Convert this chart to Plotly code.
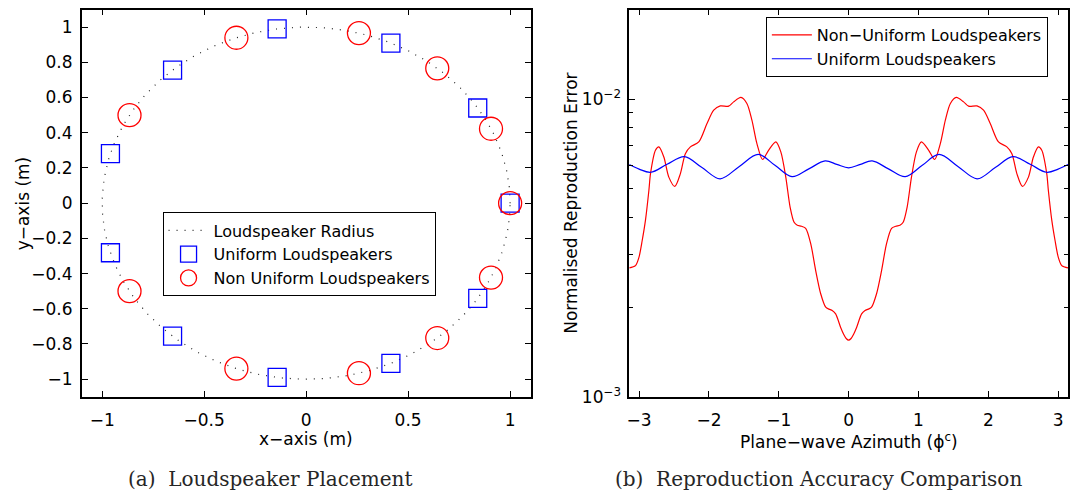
import numpy as np
import plotly.graph_objects as go

W, H = 1072, 496
HEFF = 485  # vertical extent the page is photographed at (observed), used for paper fractions

# ---------------- Panel (a): loudspeaker placement ----------------
radius = 1.0
uniform_deg = [0, 32.73, 65.45, 98.18, 130.91, 163.64, 196.36, 229.09, 261.82, 294.55, 327.27]
nonuniform_deg = [0, 25, 50, 75, 110, 150, 210, 250, 285, 310, 335]

# ---------------- Panel (b): reproduction error ----------------
azimuth_nonuniform = [
    -3.1416, -3.052, -3.003, -2.956, -2.909, -2.860, -2.837, -2.766, -2.717, -2.646,
    -2.575, -2.489, -2.409, -2.338, -2.266, -2.146, -2.028, -1.932, -1.838, -1.718,
    -1.646, -1.542, -1.457, -1.385, -1.314, -1.232, -1.147, -1.042, -0.971, -0.900,
    -0.838, -0.781, -0.735, -0.675, -0.615, -0.543, -0.471, -0.400, -0.328, -0.281,
    -0.235, -0.186, -0.114, -0.070, -0.035, 0.0,
    0.035, 0.070, 0.114, 0.186, 0.235, 0.281, 0.328, 0.400, 0.471, 0.543, 0.615,
    0.675, 0.735, 0.781, 0.838, 0.900, 0.971, 1.042, 1.147, 1.232, 1.314,
    1.385, 1.457, 1.542, 1.646, 1.718, 1.838, 1.932, 2.028, 2.146, 2.266,
    2.338, 2.409, 2.489, 2.575, 2.646, 2.717, 2.766, 2.837, 2.860, 2.909,
    2.956, 3.003, 3.052, 3.1416,
]
error_nonuniform = [
    0.00271, 0.00276, 0.00294, 0.00335, 0.00392, 0.00494, 0.00562, 0.00673, 0.00691, 0.00639,
    0.00547, 0.00509, 0.00562, 0.00656, 0.00691, 0.00718, 0.00828, 0.00918, 0.00949, 0.00947,
    0.00979, 0.01013, 0.00967, 0.00850, 0.00710, 0.00627, 0.00673, 0.00718, 0.00665, 0.00547,
    0.00434, 0.00386, 0.00377, 0.00374, 0.00368, 0.00327, 0.00265, 0.00222, 0.00200, 0.00197,
    0.00195, 0.00190, 0.00171, 0.00162, 0.00157, 0.00155,
    0.00157, 0.00162, 0.00171, 0.00190, 0.00195, 0.00197, 0.00200, 0.00222, 0.00265, 0.00327, 0.00368,
    0.00374, 0.00377, 0.00386, 0.00434, 0.00547, 0.00665, 0.00718, 0.00673, 0.00627, 0.00710,
    0.00850, 0.00967, 0.01013, 0.00979, 0.00947, 0.00949, 0.00918, 0.00828, 0.00718, 0.00691,
    0.00656, 0.00562, 0.00509, 0.00547, 0.00639, 0.00691, 0.00673, 0.00562, 0.00494, 0.00392,
    0.00335, 0.00294, 0.00276, 0.00271,
]
azimuth_uniform = [
    -3.1416, -3.0, -2.835, -2.6, -2.352, -2.1, -1.84, -1.57, -1.294, -1.05,
    -0.811, -0.57, -0.337, -0.17, 0.0, 0.17, 0.337, 0.57, 0.811, 1.05,
    1.294, 1.57, 1.84, 2.1, 2.352, 2.6, 2.835, 3.0, 3.1416,
]
error_uniform = [
    0.00603, 0.00582, 0.00568, 0.00604, 0.00641, 0.00589, 0.00540, 0.00593, 0.00652, 0.00598,
    0.00549, 0.00583, 0.00620, 0.00604, 0.00588, 0.00604, 0.00620, 0.00583, 0.00549, 0.00598,
    0.00652, 0.00593, 0.00540, 0.00589, 0.00641, 0.00604, 0.00568, 0.00582, 0.00603,
]

x_ticks_a = [-1, -0.5, 0, 0.5, 1]
y_ticks_a = [-1, -0.8, -0.6, -0.4, -0.2, 0, 0.2, 0.4, 0.6, 0.8, 1]
x_ticks_b = [-3, -2, -1, 0, 1, 2, 3]
y_ticks_b = [0.001, 0.01]
y_ticktext_b = ["10<sup>−3</sup>", "10<sup>−2</sup>"]
y_minor_b = [0.002, 0.003, 0.004, 0.005, 0.006, 0.007, 0.008, 0.009, 0.02]

SANS = "DejaVu Sans"
SERIF = "DejaVu Serif"


def py(y):
    """paper fraction for a target pixel row"""
    return 1 - y / HEFF


t = np.linspace(0, 2 * np.pi, 400)
ua = np.deg2rad(uniform_deg)
na = np.deg2rad(nonuniform_deg)

fig = go.Figure()
fig.add_trace(go.Scatter(
    x=radius * np.cos(t), y=radius * np.sin(t), mode="lines",
    line=dict(color="#222222", width=1.2, dash="1px,7px"),
    name="Loudspeaker Radius", xaxis="x", yaxis="y", legend="legend"))
fig.add_trace(go.Scatter(
    x=radius * np.cos(ua), y=radius * np.sin(ua), mode="markers",
    marker=dict(symbol="square-open", size=18, color="#0000ff", line=dict(width=1.3, color="#0000ff")),
    name="Uniform Loudspeakers", xaxis="x", yaxis="y", legend="legend"))
fig.add_trace(go.Scatter(
    x=radius * np.cos(na), y=radius * np.sin(na), mode="markers",
    marker=dict(symbol="circle-open", size=23, color="#ff0000", line=dict(width=1.3, color="#ff0000")),
    name="Non Uniform Loudspeakers", xaxis="x", yaxis="y", legend="legend"))

fig.add_trace(go.Scatter(
    x=azimuth_nonuniform, y=error_nonuniform, mode="lines",
    line=dict(color="#ff0000", width=1.2, shape="spline", smoothing=0.8),
    name="Non−Uniform Loudspeakers", xaxis="x2", yaxis="y2", legend="legend2"))
fig.add_trace(go.Scatter(
    x=azimuth_uniform, y=error_uniform, mode="lines",
    line=dict(color="#0000ff", width=1.2, shape="spline", smoothing=1.0),
    name="Uniform Loudspeakers", xaxis="x2", yaxis="y2", legend="legend2"))

FS = 17
axis_common = dict(
    showline=True, linecolor="black", linewidth=1.6, mirror="ticks",
    ticks="inside", ticklen=6, tickwidth=1, tickcolor="black",
    showgrid=False, zeroline=False,
    tickfont=dict(family=SANS, size=FS, color="black"),
)

ydom = [py(396), py(9.5)]
legend_common = dict(xanchor="left", yanchor="top", bgcolor="white",
                     bordercolor="black", borderwidth=1,
                     font=dict(family=SANS, size=16, color="black"),
                     itemwidth=40, tracegroupgap=0)
fig.update_layout(
    width=W, height=H, autosize=False,
    margin=dict(l=0, r=0, t=0, b=0),
    paper_bgcolor="white", plot_bgcolor="white",
    xaxis=dict(domain=[79 / W, 529 / W], range=[-1.1, 1.1], tickmode="array",
               tickvals=x_ticks_a, ticklabelstandoff=7, anchor="y", **axis_common),
    yaxis=dict(domain=ydom, range=[-1.1, 1.1], tickmode="array",
               tickvals=y_ticks_a, ticklabelstandoff=4, anchor="x", **axis_common),
    xaxis2=dict(domain=[628 / W, 1068 / W], range=[-np.pi, np.pi], tickmode="array",
                tickvals=x_ticks_b, ticklabelstandoff=7, anchor="y2", **axis_common),
    yaxis2=dict(domain=ydom, type="log", range=[-3, np.log10(0.02)], tickmode="array",
                tickvals=y_ticks_b, ticktext=y_ticktext_b, ticklabelstandoff=3, anchor="x2",
                minor=dict(tickmode="array", tickvals=y_minor_b, ticks="inside", ticklen=4,
                           tickwidth=1, tickcolor="black"),
                **axis_common),
    legend=dict(x=160 / W, y=py(212), **legend_common),
    legend2=dict(x=765 / W, y=py(17), **legend_common),
    showlegend=True,
)

ann_font = dict(family=SANS, size=FS, color="black")
cap_font = dict(family=SERIF, size=20, color="#262626")
annotations = [
    dict(text="y−axis (m)", x=20 / W, y=py(203), textangle=-90, font=ann_font),
    dict(text="x−axis (m)", x=304 / W, y=py(438), font=ann_font),
    dict(text="Normalised Reproduction Error", x=570 / W, y=py(203), textangle=-90, font=ann_font),
    dict(text="Plane−wave Azimuth (ϕ<sup>c</sup>)", x=848 / W, y=py(440), font=ann_font),
    dict(text="(a)  Loudspeaker Placement", x=268 / W, y=py(478), font=cap_font),
    dict(text="(b)  Reproduction Accuracy Comparison", x=818 / W, y=py(478), font=cap_font),
]
for a in annotations:
    a.update(xref="paper", yref="paper", showarrow=False, xanchor="center", yanchor="middle")
fig.update_layout(annotations=annotations)

fig.write_html(
    "out.html",
    config={"responsive": False, "displayModeBar": False},
    default_width="1072px", default_height="496px",
    post_script="document.body.style.margin='0';document.body.style.padding='0';"
                "document.documentElement.style.overflow='hidden';",
)
